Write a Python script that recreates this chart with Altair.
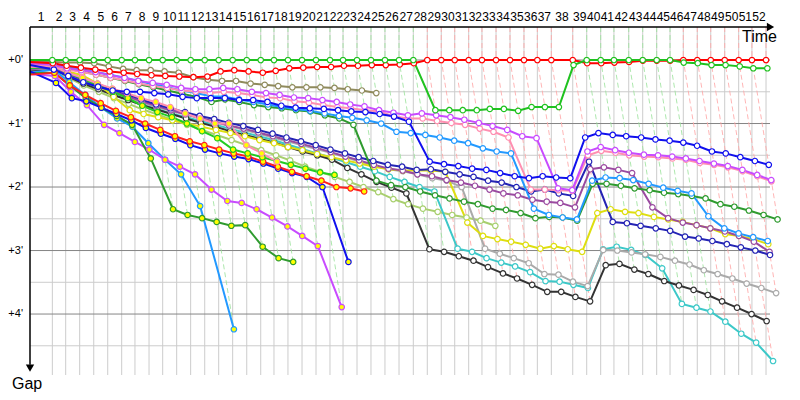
import altair as alt
import pandas as pd

# cumulative leader time (minutes) at the end of laps 1..52
lap_end = [2.19, 3.50, 4.87, 6.25, 7.62, 8.99, 10.29, 11.67, 13.01, 14.38,
           15.75, 17.13, 18.50, 19.87, 21.25, 22.62, 23.92, 25.29, 26.67, 28.04,
           29.41, 30.69, 32.06, 33.43, 34.80, 36.18, 37.58, 38.95, 40.32, 41.64,
           43.01, 44.31, 45.69, 47.06, 48.43, 49.74, 51.11, 53.21, 54.58, 55.95,
           57.25, 58.70, 60.07, 61.44, 62.75, 64.05, 65.42, 66.74, 68.11, 69.48,
           70.78, 72.16]
# who led each lap: G = green car, R = red car
leader = list("GGGGGGGGGGGGGGGGGGGGGGGGGGG" "RRRRRRRRRRR" "GGGGGGG" "RRRRRRR")
lap_labels = [str(i) for i in range(1, 53)]
gap_ticks = [0, 1, 2, 3, 4]
gap_tick_labels = ["+0'", "+1'", "+2'", "+3'", "+4'"]

# gap to leader (minutes) per lap for every car
g_green = [0, 0, 0, 0, 0, 0, 0, 0, 0, 0, 0, 0, 0, 0, 0, 0, 0, 0, 0, 0, 0, 0, 0, 0, 0, 0, 0,
           0.79, 0.79, 0.79, 0.79, 0.77, 0.77, 0.80, 0.74, 0.74, 0.74, 0.08,
           0, 0, 0, 0, 0, 0, 0, 0.04, 0.05, 0.08, 0.08, 0.10, 0.13, 0.13]
g_red = [0.05, 0.09, 0.12, 0.15, 0.18, 0.20, 0.22, 0.24, 0.25, 0.26,
         0.27, 0.26, 0.18, 0.16, 0.18, 0.20, 0.17, 0.13, 0.12, 0.11, 0.11, 0.09, 0.09, 0.08, 0.08, 0.07, 0.05,
         0, 0, 0, 0, 0, 0, 0, 0, 0, 0, 0,
         0.05, 0.05, 0.04, 0.03, 0.01, 0.01, 0.01, 0, 0, 0, 0, 0, 0, 0]
g_brown = [0.03, 0.04, 0.04, 0.05, 0.10, 0.14, 0.16, 0.16, 0.18, 0.20, 0.27, 0.31, 0.33, 0.33,
           0.37, 0.39, 0.41, 0.43, 0.43, 0.43, 0.44, 0.46, 0.48, 0.52]
g_violet = [0.08, 0.13, 0.16, 0.19, 0.24, 0.28, 0.33, 0.36, 0.39, 0.44, 0.46,
            0.46, 0.44, 0.46, 0.50, 0.52, 0.55, 0.59, 0.60, 0.63, 0.66, 0.70, 0.73, 0.79, 0.83, 0.87,
            0.84, 0.87, 0.90, 0.94, 0.99, 1.04, 1.10, 1.20, 1.23, 2.02, 2.05,
            1.44, 1.37, 1.42, 1.46, 1.49, 1.50, 1.52, 1.55, 1.59, 1.63, 1.67, 1.73, 1.81, 1.89]
g_pink = [0.10, 0.15, 0.19, 0.23, 0.28, 0.32, 0.37, 0.41, 0.44, 0.48, 0.50,
          0.52, 0.50, 0.52, 0.55, 0.59, 0.60, 0.65, 0.67, 0.71, 0.74, 0.76, 0.79, 0.81, 0.89, 0.92,
          0.92, 0.96, 0.99, 1.02, 1.08, 1.13, 1.22, 2.04, 2.04, 2.05, 2.06,
          1.50, 1.43, 1.46, 1.50, 1.52, 1.53, 1.55, 1.57, 1.62, 1.65, 1.69, 1.75, 1.83, 1.91]
g_blue = [0.15, 0.25, 0.35, 0.42, 0.48, 0.50, 0.50, 0.52, 0.54, 0.58, 0.60,
          0.60, 0.60, 0.63, 0.63, 0.66, 0.72, 0.75, 0.76, 0.77, 0.79, 0.81, 0.82, 0.85, 0.89, 0.97,
          1.60, 1.64, 1.67, 1.71, 1.73, 1.78, 1.83, 1.86, 1.83, 1.85, 1.86,
          1.22, 1.15, 1.18, 1.20, 1.22, 1.25, 1.27, 1.30, 1.35, 1.44, 1.47, 1.53, 1.59, 1.65]
g_lblue = [0.06, 0.10, 0.14, 0.19, 0.23, 0.28, 0.33, 0.38, 0.43, 0.48, 0.52,
           0.57, 0.58, 0.62, 0.66, 0.70, 0.74, 0.77, 0.80, 0.84, 0.88, 0.91, 0.95,
           1.00, 1.13, 1.15, 1.18, 1.22, 1.27, 1.31, 1.39, 1.44, 1.47, 2.34, 2.44, 2.48, 2.51,
           1.90, 1.85, 1.86, 1.89, 1.95, 2.01, 2.06, 2.10, 2.46, 2.65, 2.73, 2.79, 2.85]
g_fgreen = [0.05, 0.12, 0.18, 0.23, 0.28, 0.33, 0.38, 0.43, 0.48, 0.53, 0.58,
            0.66, 0.62, 0.66, 0.71, 0.74, 0.76, 0.79, 0.81, 0.87, 0.92, 1.02, 1.90,
            1.97, 2.00, 2.07, 2.13, 2.18, 2.23, 2.27, 2.34, 2.36, 2.41, 2.49, 2.47, 2.48, 2.53,
            1.95, 1.95, 1.98, 2.02, 2.05, 2.09, 2.11, 2.14, 2.18, 2.27, 2.31, 2.37, 2.44, 2.51]
g_navy = [0.10, 0.20, 0.30, 0.38, 0.46, 0.54, 0.62, 0.70, 0.76, 0.82, 0.88, 0.93, 0.99, 1.04,
          1.10, 1.16, 1.22, 1.28, 1.34, 1.41, 1.47, 1.53, 1.59,
          1.65, 1.68, 1.73, 1.72, 1.76, 1.80, 1.84, 1.90, 1.93, 2.00, 2.07, 2.04, 2.10, 2.14,
          1.60, 2.55, 2.57, 2.61, 2.65, 2.69, 2.78, 2.81, 2.85, 2.90, 2.95, 3.00, 3.07]
g_dpurple = [0.12, 0.22, 0.32, 0.41, 0.49, 0.57, 0.65, 0.72, 0.79, 0.85, 0.91, 0.97, 1.03, 1.08,
             1.14, 1.20, 1.26, 1.32, 1.38, 1.45, 1.52, 1.58, 1.65,
             1.71, 1.74, 1.80, 1.83, 1.89, 1.93, 1.98, 2.04, 2.10, 2.13, 2.20, 2.23, 2.25, 2.32,
             1.72, 1.69, 1.73, 1.78, 2.32, 2.49, 2.56, 2.60, 2.65, 2.70, 2.77, 2.86, 3.02]
g_yellow = [0.10, 0.18, 0.24, 0.37, 0.58, 0.79, 0.85,
            0.90, 0.95, 1.00, 1.05, 1.10, 1.15, 1.20, 1.26, 1.31, 1.37, 1.42, 1.48, 1.53, 1.58, 1.63, 1.68,
            1.72, 1.74, 1.74, 1.74, 1.76, 2.56, 2.77, 2.82, 2.86, 2.91, 2.97, 2.93, 2.98, 3.02,
            2.41, 2.35, 2.39, 2.41, 2.47, 2.51, 2.55, 2.60, 2.65, 2.74, 2.77, 2.82, 2.90]
g_gray = [0.13, 0.24, 0.34, 0.43, 0.51, 0.59, 0.67, 0.74, 0.80, 0.86, 0.92, 0.98, 1.04, 1.10,
          1.16, 1.22, 1.28, 1.34, 1.40, 1.46, 1.53, 1.60, 1.66,
          1.72, 1.75, 1.80, 1.86, 1.90, 2.00, 2.97, 3.05, 3.12, 3.20, 3.37, 3.38, 3.49, 3.56,
          2.99, 3.00, 3.03, 3.06, 3.10, 3.16, 3.22, 3.31, 3.37, 3.44, 3.52, 3.59, 3.67]
g_black = [0.14, 0.26, 0.37, 0.46, 0.55, 0.63, 0.71, 0.78, 0.85, 0.92, 0.99, 1.05, 1.12, 1.18,
           1.24, 1.30, 1.37, 1.44, 1.50, 1.57, 1.70, 1.80, 1.92, 2.01, 2.10,
           2.98, 3.02, 3.09, 3.16, 3.26, 3.36, 3.44, 3.54, 3.65, 3.65, 3.73, 3.80,
           3.23, 3.21, 3.30, 3.37, 3.48, 3.55, 3.62, 3.70, 3.80, 3.90, 4.00, 4.11]
g_cyan = [0.13, 0.25, 0.36, 0.45, 0.54, 0.62, 0.70, 0.77, 0.84, 0.90, 0.96, 1.02, 1.08, 1.14,
          1.20, 1.26, 1.33, 1.40, 1.47, 1.54, 1.61, 1.68, 1.75, 1.84, 1.92, 2.00, 2.07,
          2.97, 3.02, 3.12, 3.19, 3.25, 3.34, 3.48, 3.49, 3.54, 3.59,
          2.98, 2.94, 2.99, 3.07, 3.28, 3.84, 3.90, 3.96, 4.12, 4.31, 4.45, 4.74]
g_olive = [0.15, 0.28, 0.40, 0.50, 0.60, 0.69, 0.78, 0.86, 0.94, 1.02, 1.10, 1.18, 1.26, 1.34,
           1.42, 1.50, 1.58, 1.68, 1.76, 1.84, 1.92, 2.00, 2.08, 2.19, 2.27, 2.34, 2.39, 2.44,
           2.48, 2.53, 2.61]
g_lblue_y = [0.15, 0.35, 0.55, 0.75, 0.92, 1.05, 1.31, 1.57, 1.80, 2.30, 4.24]
g_violet_y = [0.25, 0.50, 0.71, 1.02, 1.15, 1.29, 1.41, 1.57, 1.68, 1.80, 2.04, 2.22, 2.25,
              2.35, 2.48, 2.62, 2.77, 2.93, 3.89]
g_fgreen_y = [0.20, 0.40, 0.60, 0.75, 0.88, 1.02, 1.55, 2.35, 2.44, 2.49, 2.55, 2.61, 2.60,
              2.94, 3.12, 3.18]
g_blue_y = [0.36, 0.60, 0.65, 0.75, 0.85, 0.95, 1.07, 1.16, 1.24, 1.34, 1.41, 1.47, 1.52,
            1.56, 1.63, 1.71, 1.78, 1.84, 2.00, 3.18]
g_red_y = [0.20, 0.40, 0.55, 0.68, 0.80, 0.90, 1.00, 1.10, 1.20, 1.28, 1.34, 1.41, 1.47,
           1.52, 1.60, 1.68, 1.76, 1.83, 1.90, 2.00, 2.02, 2.07]
g_green_y = [0.10, 0.20, 0.30, 0.40, 0.50, 0.60, 0.72, 0.82, 0.90, 1.00, 1.12, 1.23, 1.41,
             1.47, 1.53, 1.59, 1.65, 1.71, 1.77, 1.81]
g_pink_y = [0.10, 0.20, 0.28, 0.37, 0.45, 0.52, 0.60, 0.66, 0.74, 0.84, 0.92, 1.00, 1.00,
            1.34, 1.47, 1.60]

car_names = ["olive", "cyan", "black", "gray", "yellow", "dpurple", "navy", "lblue_y",
             "violet_y", "fgreen_y", "blue_y", "red_y", "green_y", "pink_y", "fgreen",
             "lblue", "pink", "violet", "blue", "brown", "red", "green"]
car_colors = ["#a8cf6e", "#3cc8c8", "#333333", "#aaaaaa", "#dede10", "#9a4aa0", "#2424b4", "#2299ff",
              "#c84bff", "#2f9b2f", "#1010ee", "#ff2020", "#22cc22", "#ff8fb1", "#2f9b2f",
              "#2299ff", "#ff8fb1", "#c84bff", "#1010ee", "#8f8a5c", "#ff0000", "#1fc21f"]
car_fills = ["white", "white", "white", "white", "white", "white", "white", "#ffff00",
             "#ffff00", "#ffff00", "#ffff00", "#ffff00", "#ffff00", "#ffff00", "white",
             "white", "white", "white", "white", "white", "white", "white"]
car_start = [0.19, 0.16, 0.17, 0.15, 0.10, 0.14, 0.12, 0.20,
             0.22, 0.21, 0.18, 0.23, 0.13, 0.11, 0.07,
             0.04, 0.06, 0.05, 0.08, 0.02, 0.03, 0.0]
car_gaps = [g_olive, g_cyan, g_black, g_gray, g_yellow, g_dpurple, g_navy, g_lblue_y,
            g_violet_y, g_fgreen_y, g_blue_y, g_red_y, g_green_y, g_pink_y, g_fgreen,
            g_lblue, g_pink, g_violet, g_blue, g_brown, g_red, g_green]

# ---------- tables ----------
rows = []
for name, fill, g0, gaps in zip(car_names, car_fills, car_start, car_gaps):
    rows.append(dict(car=name, lap=0, t=0.0, gap=g0, fill=fill))
    for k, g in enumerate(gaps, start=1):
        rows.append(dict(car=name, lap=k, t=lap_end[k - 1] + g, gap=g, fill=fill))
cars = pd.DataFrame(rows)
marks_df = cars[cars.lap > 0]

TOP = -0.52
BOTTOM = 4.96
XMAX = 72.55

drows = []
for k in range(1, 53):
    T = lap_end[k - 1]
    lead = leader[k - 1]
    pts = sorted(g[k - 1] for g in car_gaps if len(g) >= k)
    drows.append(dict(lap=k, ord=-2, t=T, gap=TOP, lead=lead))
    drows.append(dict(lap=k, ord=-1, t=T, gap=0.0, lead=lead))
    for i, g in enumerate(pts):
        drows.append(dict(lap=k, ord=i, t=T + g, gap=g, lead=lead))
dashed = pd.DataFrame(drows)

starts = [0.0] + lap_end[:-1]
labels_df = pd.DataFrame({"mid": [(a + b) / 2 for a, b in zip(starts, lap_end)], "txt": lap_labels})
vgrid = pd.DataFrame({"t": lap_end})
hmajor = pd.DataFrame({"g": gap_ticks, "txt": gap_tick_labels})
hminor = pd.DataFrame({"g": [0.5, 1.5, 2.5, 3.5, 4.5]})
one = pd.DataFrame({"a": [0]})

xs = alt.Scale(domain=[0, XMAX], nice=False, zero=False)
ys = alt.Scale(domain=[TOP, BOTTOM], nice=False, zero=False, reverse=True)
cscale = alt.Scale(domain=car_names, range=car_colors)
FONT = "Liberation Sans"

minor = alt.Chart(hminor).mark_rule(color="#cccccc", strokeWidth=1).encode(
    x=alt.datum(0, scale=xs, axis=None), x2=alt.datum(XMAX),
    y=alt.Y("g:Q", scale=ys, axis=None))
vg = alt.Chart(vgrid).mark_rule(color="#cccccc", strokeWidth=1).encode(
    x=alt.X("t:Q", scale=xs, axis=None),
    y=alt.datum(TOP, scale=ys, axis=None), y2=alt.datum(BOTTOM))
major = alt.Chart(hmajor).mark_rule(color="#858585", strokeWidth=1).encode(
    x=alt.datum(0, scale=xs, axis=None), x2=alt.datum(XMAX),
    y=alt.Y("g:Q", scale=ys, axis=None))


def dash_layer(code, col):
    return alt.Chart(dashed).transform_filter(alt.datum.lead == code).mark_line(
        strokeDash=[5, 3], strokeWidth=1, opacity=0.85, color=col).encode(
        x=alt.X("t:Q", scale=xs, axis=None),
        y=alt.Y("gap:Q", scale=ys, axis=None),
        detail="lap:N",
        order="ord:Q")


dash_g = dash_layer("G", "#9fe39f")
dash_r = dash_layer("R", "#ffa8a8")

lines = alt.Chart(cars).mark_line(strokeWidth=2).encode(
    x=alt.X("t:Q", scale=xs, axis=None),
    y=alt.Y("gap:Q", scale=ys, axis=None),
    color=alt.Color("car:N", scale=cscale, legend=None),
    order="lap:Q")

points = alt.Chart(marks_df).mark_point(filled=True, size=30, strokeWidth=1.2, opacity=1).encode(
    x=alt.X("t:Q", scale=xs, axis=None),
    y=alt.Y("gap:Q", scale=ys, axis=None),
    stroke=alt.Stroke("car:N", scale=cscale, legend=None),
    fill=alt.Fill("fill:N", scale=None))

top_axis = alt.Chart(one).mark_rule(color="black", strokeWidth=1.5).encode(
    x=alt.datum(0, scale=xs, axis=None), x2=alt.datum(72.3),
    y=alt.datum(TOP, scale=ys, axis=None))
top_arrow = alt.Chart(one).mark_point(shape="triangle-right", filled=True, color="black", size=70, opacity=1).encode(
    x=alt.datum(72.6, scale=xs, axis=None), y=alt.datum(TOP, scale=ys, axis=None))
left_axis = alt.Chart(one).mark_rule(color="black", strokeWidth=1.5).encode(
    x=alt.datum(0, scale=xs, axis=None),
    y=alt.datum(TOP, scale=ys, axis=None), y2=alt.datum(4.8))
left_arrow = alt.Chart(one).mark_point(shape="triangle-down", filled=True, color="black", size=70, opacity=1).encode(
    x=alt.datum(0, scale=xs, axis=None), y=alt.datum(4.85, scale=ys, axis=None))

lap_txt = alt.Chart(labels_df).mark_text(font=FONT, fontSize=12, color="black", baseline="middle").encode(
    x=alt.X("mid:Q", scale=xs, axis=None), y=alt.value(-10), text="txt:N")
gap_txt = alt.Chart(hmajor).mark_text(font=FONT, fontSize=11, color="black", align="right", baseline="middle").encode(
    x=alt.value(-7), y=alt.Y("g:Q", scale=ys, axis=None), text="txt:N")
time_txt = alt.Chart(one).mark_text(text="Time", font=FONT, fontSize=16, color="black", align="right",
                                    baseline="alphabetic").encode(x=alt.value(747), y=alt.value(15))
gap_title = alt.Chart(one).mark_text(text="Gap", font=FONT, fontSize=16, color="black", align="left",
                                     baseline="alphabetic").encode(x=alt.value(-18), y=alt.value(362))

chart = alt.layer(minor, vg, major, dash_g, dash_r, lines, points, top_axis, top_arrow, left_axis, left_arrow,
                  lap_txt, gap_txt, time_txt, gap_title).properties(
    width=740, height=348, autosize="none",
    padding={"left": 22, "top": 19, "right": 20, "bottom": 25},
    background="white",
).configure_view(stroke=None)

chart.save("out.html", embed_options={"renderer": "svg", "actions": False})
